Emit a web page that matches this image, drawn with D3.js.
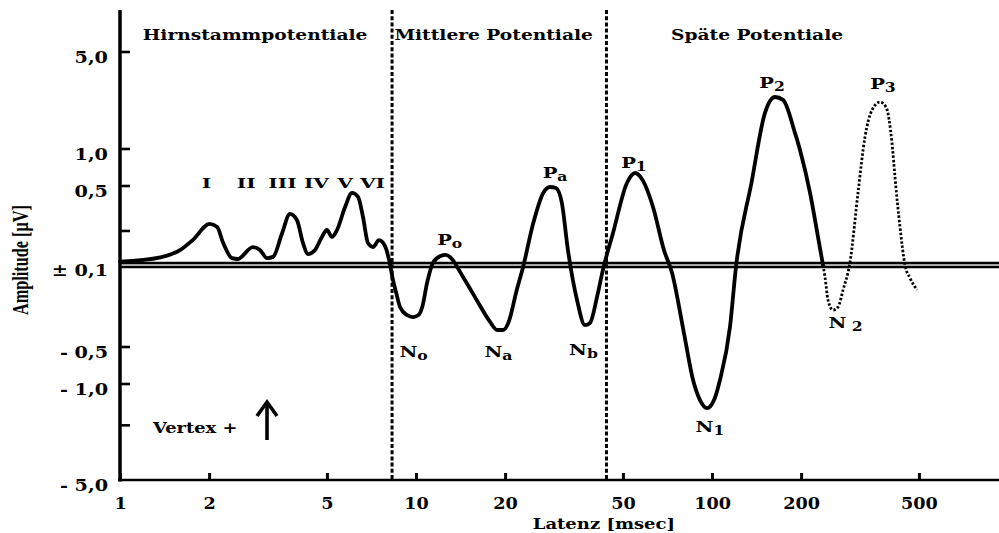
<!DOCTYPE html>
<html>
<head>
<meta charset="utf-8">
<script src="https://cdn.jsdelivr.net/npm/d3@7"></script>
<style>
  html, body { margin: 0; padding: 0; background: #fff; }
  svg { display: block; }
  text { font-family: "DejaVu Serif", serif; font-weight: bold; fill: #000; white-space: pre; }
</style>
</head>
<body>
<svg id="chart" width="999" height="533"></svg>
<script>
// Averaged auditory evoked potential: latency in ms, amplitude in µV.
// Solid trace: brainstem waves I–VI, middle latency No/Po/Na/Pa/Nb, late P1/N1/P2.
const solidLatency = [
  1.00, 1.37, 1.60, 1.76, 2.01, 2.13, 2.23, 2.39, 2.50, 2.81,
  2.97, 3.14, 3.29, 3.53, 3.75, 3.96, 4.15, 4.32, 4.56, 4.81,
  5.00, 5.20, 5.41, 5.76, 6.08, 6.37, 6.62, 6.88, 7.16, 7.50,
  7.86, 8.11, 8.36, 8.56, 8.83, 9.32, 9.77, 10.2, 10.5, 10.9,
  11.4, 12.1, 12.6, 13.3, 14.1, 14.9, 16.4, 17.8, 18.8, 19.7,
  20.5, 21.9, 23.0, 24.9, 26.9, 28.4, 29.7, 31.1, 32.6, 35.0,
  37.2, 38.7, 40.9, 42.8, 46.3, 51.6, 55.0, 58.5, 63.2, 68.8,
  73.3, 80.4, 86.3, 91.1, 96.2, 101.6, 106.4, 115.0, 120.5, 135.9,
  151.0, 163.2, 173.8, 190.8, 198.3, 214.4, 228.1, 237.1
];
const solidAmplitude = [
  0.107, 0.117, 0.136, 0.166, 0.231, 0.217, 0.157, 0.115, 0.113, 0.144,
  0.136, 0.115, 0.118, 0.192, 0.283, 0.250, 0.157, 0.125, 0.136, 0.177,
  0.204, 0.177, 0.204, 0.326, 0.434, 0.400, 0.266, 0.157, 0.144, 0.166,
  0.147, 0.111, -0.134, -0.170, -0.228, -0.267, -0.278, -0.267, -0.228, -0.142,
  0.104, 0.120, 0.123, 0.111, -0.115, -0.145, -0.219, -0.306, -0.358, -0.358,
  -0.312, -0.163, -0.104, 0.235, 0.434, 0.490, 0.480, 0.354, 0.136, -0.199,
  -0.325, -0.312, -0.187, -0.110, 0.192, 0.529, 0.638, 0.550, 0.326, 0.136,
  -0.117, -0.380, -0.928, -1.31, -1.50, -1.31, -0.928, -0.338, -0.104, 0.529,
  1.82, 2.37, 2.26, 1.30, 0.981, 0.434, 0.177, 0.100
];
// Dotted continuation: N2 and P3.
const dottedLatency = [
  237.1, 240.9, 246.6, 256.4, 266.6, 277.2, 292.6, 311.3, 328.7, 347.2,
  369.5, 387.1, 405.6, 415.1, 431.6, 448.7, 466.5, 492.8
];
const dottedAmplitude = [
  0.100, -0.127, -0.199, -0.242, -0.228, -0.163, 0.106, 0.434, 1.22, 1.91,
  2.18, 2.01, 1.105, 0.592, 0.217, 0.100, -0.129, -0.163
];

// Axis ticks
const xTicks = [1, 2, 5, 10, 20, 50, 100, 200, 500];
const xTickLabels = ["1", "2", "5", "10", "20", "50", "100", "200", "500"];
const yTicks = [5, 1, 0.5, 0.2, 0.1, -0.5, -1, -2, -5];
const yTickLabels = ["5,0", "1,0", "0,5", "", "± 0,1", "- 0,5", "- 1,0", "", "- 5,0"];

// Latency ranges of the three potential classes
const sectionBounds = [8.3, 44];
const sectionNames = ["Hirnstammpotentiale", "Mittlere Potentiale", "Späte Potentiale"];
const sectionNameLatency = [2.86, 18.3, 142];

// Brainstem wave names (Jewett), anchored at latency / amplitude
const waveNames = ["I", "II", "III", "IV", "V", "VI"];
const waveLatency = [1.96, 2.67, 3.54, 4.61, 5.76, 7.13];
const waveAmplitude = [0.48, 0.48, 0.48, 0.48, 0.48, 0.48];

// Component names with index, anchored at latency / amplitude
const componentLetter = ["P", "P", "P", "P", "P", "N", "N", "N", "N", "N"];
const componentIndex = ["o", "a", "1", "2", "3", "o", "a", "b", "1", " 2"];
const componentLatency = [13.0, 29.5, 54.5, 159.5, 378, 9.81, 19.0, 36.8, 98.4, 282.5];
const componentAmplitude = [0.150, 0.581, 0.700, 2.75, 2.71, -0.603, -0.603, -0.581, -2.23, -0.344];

const W = 999, H = 533;
const svg = d3.select("#chart");

// Log latency axis
const x = d3.scaleLog().domain([1, 1000]).range([120, 1008]);
// Amplitude axis: logarithmic in |amplitude| on both sides of the ±0.1 µV line
const slog = v => Math.sign(v) * Math.log10(Math.max(Math.abs(v), 0.1) / 0.1);
const yLin = d3.scaleLinear()
  .domain([-5, -1, -0.5, 0.1, 0.5, 1, 5].map(slog))
  .range([480, 384, 347, 265, 186, 149, 52]);
const y = v => yLin(slog(v));

const plotLeft = x(1), plotRight = W, plotTop = 10, plotBottom = y(-5);

function stretch(sel, k) {
  sel.each(function () {
    const w = this.getComputedTextLength();
    d3.select(this).attr("textLength", w * k).attr("lengthAdjust", "spacingAndGlyphs");
  });
}

// ±0.1 µV reference line (double rule)
const y0 = y(0.1);
[-2, 2.2].forEach(off => {
  svg.append("line")
    .attr("x1", plotLeft).attr("x2", plotRight)
    .attr("y1", y0 + off).attr("y2", y0 + off)
    .attr("stroke", "#000").attr("stroke-width", 2.3);
});
svg.append("line")
  .attr("x1", plotLeft).attr("x2", plotRight)
  .attr("y1", y0 + 0.1).attr("y2", y0 + 0.1)
  .attr("stroke", "#777").attr("stroke-width", 1);

// Section dividers
svg.selectAll("line.divider")
  .data(sectionBounds)
  .join("line")
  .attr("class", "divider")
  .attr("x1", d => x(d)).attr("x2", d => x(d))
  .attr("y1", plotTop).attr("y2", plotBottom)
  .attr("stroke", "#000").attr("stroke-width", 3)
  .attr("stroke-dasharray", "4,2.2");

// Traces
const line = d3.line()
  .x(d => x(d[0]))
  .y(d => y(d[1]))
  .curve(d3.curveMonotoneX);

svg.append("path")
  .datum(d3.zip(solidLatency, solidAmplitude))
  .attr("d", line)
  .attr("fill", "none").attr("stroke", "#000")
  .attr("stroke-width", 3.8).attr("stroke-linejoin", "round").attr("stroke-linecap", "round");

svg.append("path")
  .datum(d3.zip(dottedLatency, dottedAmplitude))
  .attr("d", line)
  .attr("fill", "none").attr("stroke", "#000")
  .attr("stroke-width", 2.8).attr("stroke-dasharray", "2.4,1.9");

// Y axis
svg.append("line")
  .attr("x1", plotLeft).attr("x2", plotLeft)
  .attr("y1", plotTop).attr("y2", plotBottom + 1.5)
  .attr("stroke", "#000").attr("stroke-width", 3.5);

svg.selectAll("line.ytick")
  .data(yTicks.filter(v => v !== 0.1 && v !== -5))
  .join("line")
  .attr("class", "ytick")
  .attr("x1", plotLeft).attr("x2", plotLeft + 10)
  .attr("y1", d => y(d)).attr("y2", d => y(d))
  .attr("stroke", "#000").attr("stroke-width", 2.6);

const yLab = svg.selectAll("text.ylab")
  .data(d3.zip(yTicks, yTickLabels).filter(d => d[1] !== ""))
  .join("text")
  .attr("class", "ylab")
  .attr("x", plotLeft - 12)
  .attr("y", d => y(d[0]) + 5)
  .attr("dy", "0.35em")
  .attr("text-anchor", "end")
  .style("font-size", "16px")
  .text(d => d[1]);
stretch(yLab, 1.2);

// X axis
const xAxis = d3.axisBottom(x)
  .tickValues(xTicks)
  .tickFormat((d, i) => xTickLabels[i])
  .tickSizeInner(-7)
  .tickSizeOuter(0)
  .tickPadding(18);
const gx = svg.append("g")
  .attr("transform", `translate(0,${plotBottom})`)
  .call(xAxis);
gx.select(".domain").remove();
gx.attr("font-family", null).attr("font-size", null);
gx.selectAll(".tick line").attr("stroke", "#000").attr("stroke-width", 3);
gx.selectAll(".tick text")
  .style("font-family", "'DejaVu Serif', serif")
  .style("font-weight", "bold")
  .style("font-size", "16px")
  .attr("fill", "#000");
stretch(gx.selectAll(".tick text"), 1.1);
svg.append("line")
  .attr("x1", plotLeft - 2).attr("x2", plotRight)
  .attr("y1", plotBottom).attr("y2", plotBottom)
  .attr("stroke", "#000").attr("stroke-width", 2.5);

// Axis titles
const xt = svg.append("text")
  .attr("x", x(50) - 19).attr("y", plotBottom + 48.5)
  .attr("text-anchor", "middle")
  .style("font-size", "15px")
  .text("Latenz [msec]");
stretch(xt, 1.2);

const yt = svg.append("g")
  .attr("transform", `translate(28,${y0 - 5}) scale(1.3,1)`)
  .append("text")
  .attr("transform", "rotate(-90)")
  .attr("text-anchor", "middle")
  .style("font-family", "'Liberation Serif', serif")
  .style("font-size", "18px")
  .text("Amplitude [µV]");
yt.attr("textLength", 110).attr("lengthAdjust", "spacingAndGlyphs");

// Section headers
const hdr = svg.selectAll("text.section")
  .data(d3.zip(sectionNames, sectionNameLatency))
  .join("text")
  .attr("class", "section")
  .attr("x", d => x(d[1]))
  .attr("y", 40)
  .attr("text-anchor", "middle")
  .style("font-size", "14px")
  .text(d => d[0]);
stretch(hdr, 1.33);

// Brainstem wave names
const waves = svg.selectAll("text.wave")
  .data(d3.zip(waveNames, waveLatency, waveAmplitude))
  .join("text")
  .attr("class", "wave")
  .attr("x", d => x(d[1]))
  .attr("y", d => y(d[2]))
  .attr("text-anchor", "middle")
  .style("font-size", "13px")
  .text(d => d[0]);
stretch(waves, 1.55);

// Component names with lowered index
const comps = svg.selectAll("text.comp")
  .data(d3.zip(componentLetter, componentIndex, componentLatency, componentAmplitude))
  .join("text")
  .attr("class", "comp")
  .attr("x", d => x(d[2]))
  .attr("y", d => y(d[3]))
  .attr("text-anchor", "middle")
  .style("font-size", "15px");
comps.append("tspan").text(d => d[0]);
comps.append("tspan")
  .attr("dy", 3)
  .style("font-size", "12px")
  .text(d => d[1]);
stretch(comps, 1.3);

// Polarity note
const vx = svg.append("text")
  .attr("x", plotLeft + 33).attr("y", plotBottom - 47)
  .style("font-size", "15px")
  .text("Vertex +");
stretch(vx, 1.19);

const ax = plotLeft + 147;
svg.append("line")
  .attr("x1", ax).attr("x2", ax)
  .attr("y1", plotBottom - 40).attr("y2", plotBottom - 76)
  .attr("stroke", "#000").attr("stroke-width", 3.6);
svg.append("path")
  .attr("d", `M${ax - 10},${plotBottom - 64} L${ax},${plotBottom - 78} L${ax + 10},${plotBottom - 64}`)
  .attr("fill", "none").attr("stroke", "#000")
  .attr("stroke-width", 3.6).attr("stroke-linejoin", "miter");
</script>
</body>
</html>
